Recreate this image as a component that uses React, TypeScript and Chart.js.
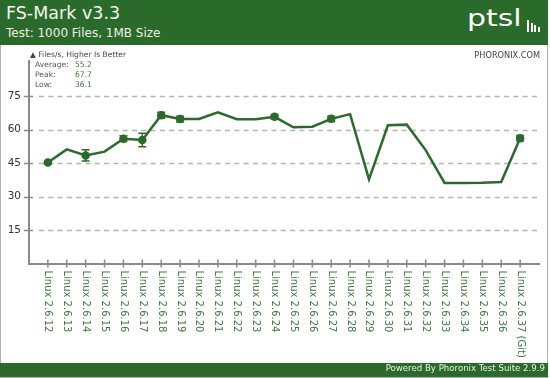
import React, { useEffect, useRef } from "react";
import { Chart, registerables } from "chart.js";

Chart.register(...registerables);

const kernels = [
  "Linux 2.6.12", "Linux 2.6.13", "Linux 2.6.14", "Linux 2.6.15", "Linux 2.6.16",
  "Linux 2.6.17", "Linux 2.6.18", "Linux 2.6.19", "Linux 2.6.20", "Linux 2.6.21",
  "Linux 2.6.22", "Linux 2.6.23", "Linux 2.6.24", "Linux 2.6.25", "Linux 2.6.26",
  "Linux 2.6.27", "Linux 2.6.28", "Linux 2.6.29", "Linux 2.6.30", "Linux 2.6.31",
  "Linux 2.6.32", "Linux 2.6.33", "Linux 2.6.34", "Linux 2.6.35", "Linux 2.6.36",
  "Linux 2.6.37 (Git)",
];
const filesPerSec = [
  45.2, 51.1, 48.4, 50.1, 55.9, 55.3, 66.4, 64.7, 64.7, 67.7,
  64.6, 64.6, 65.7, 61.0, 61.3, 64.8, 66.9, 37.7, 61.9, 62.2,
  50.8, 36.1, 36.1, 36.2, 36.5, 56.1,
];
const stdErr = [
  0.5, 0, 2.5, 0, 1.3, 3.0, 1.3, 1.3, 0, 0,
  0, 0, 1.0, 0, 0, 1.2, 0, 0, 0, 0,
  0, 0, 0, 0, 0, 1.2,
];
const yTicks = [15, 30, 45, 60, 75];
const statLabels = ["Average:", "Peak:", "Low:"];
const statValues = ["55.2", "67.7", "36.1"];

const GREEN = "#2a6a2a";
const LINE = "#2c6a2c";
const FONT = "'DejaVu Sans', 'Noto Sans', sans-serif";

const errorBars = {
  id: "errorBars",
  afterDatasetsDraw(chart: any) {
    const { ctx, scales } = chart;
    const x = scales.x, y = scales.y;
    ctx.save();
    ctx.strokeStyle = LINE;
    ctx.lineWidth = 1.5;
    stdErr.forEach((e, i) => {
      if (!e) return;
      const px = x.getPixelForValue(i);
      const top = y.getPixelForValue(filesPerSec[i] + e);
      const bot = y.getPixelForValue(filesPerSec[i] - e);
      ctx.beginPath();
      ctx.moveTo(px, top); ctx.lineTo(px, bot);
      ctx.moveTo(px - 4, top); ctx.lineTo(px + 4, top);
      ctx.moveTo(px - 4, bot); ctx.lineTo(px + 4, bot);
      ctx.stroke();
    });
    ctx.restore();
  },
};

const dashedGrid = {
  id: "dashedGrid",
  beforeDatasetsDraw(chart: any) {
    const { ctx, chartArea, scales } = chart;
    const y = scales.y;
    ctx.save();
    ctx.strokeStyle = "#b4b4b4";
    ctx.lineWidth = 1.5;
    ctx.setLineDash([5, 4.3]);
    yTicks.forEach((v) => {
      const py = Math.round(y.getPixelForValue(v)) + 0.5;
      ctx.beginPath();
      ctx.moveTo(chartArea.left + 10, py);
      ctx.lineTo(chartArea.right - 2, py);
      ctx.stroke();
    });
    ctx.restore();
  },
};

const axisDeco = {
  id: "axisDeco",
  afterDraw(chart: any) {
    const { ctx, chartArea, scales } = chart;
    const x = scales.x, y = scales.y;
    ctx.save();
    ctx.strokeStyle = "#8a8a8a";
    ctx.lineWidth = 1.5;
    ctx.beginPath();
    yTicks.forEach((v) => {
      const py = Math.round(y.getPixelForValue(v)) + 0.5;
      ctx.moveTo(chartArea.left - 5, py);
      ctx.lineTo(chartArea.left + 4, py);
    });
    kernels.forEach((_, i) => {
      const px = x.getPixelForValue(i);
      ctx.moveTo(px, chartArea.bottom - 4);
      ctx.lineTo(px, chartArea.bottom + 4);
    });
    ctx.stroke();
    ctx.fillStyle = "#3b7a3b";
    ctx.font = "10px " + FONT;
    ctx.textAlign = "left";
    ctx.textBaseline = "middle";
    kernels.forEach((lab, i) => {
      const px = x.getPixelForValue(i);
      ctx.save();
      ctx.translate(px, chartArea.bottom + 7);
      ctx.rotate(Math.PI / 2);
      ctx.fillText(lab, 0, 0);
      ctx.restore();
    });
    ctx.restore();
  },
};

export default function App() {
  const ref = useRef<HTMLCanvasElement>(null);
  useEffect(() => {
    if (!ref.current) return;
    const chart = new Chart(ref.current, {
      type: "line",
      data: {
        datasets: [
          {
            data: filesPerSec.map((v, i) => ({ x: i, y: v })),
            borderColor: LINE,
            backgroundColor: LINE,
            borderWidth: 2.5,
            pointRadius: stdErr.map((e) => (e ? 3 : 0)),
            pointHoverRadius: 0,
            tension: 0,
          },
        ],
      },
      plugins: [dashedGrid, errorBars, axisDeco],
      options: {
        animation: false,
        responsive: false,
        devicePixelRatio: 1,
        layout: { padding: { left: 0, right: 11, top: 61, bottom: 114.5 } },
        plugins: { legend: { display: false }, tooltip: { enabled: false } },
        scales: {
          x: {
            type: "linear",
            min: -1,
            max: 26,
            grid: { display: false, drawTicks: false },
            border: { display: true, color: "#8a8a8a", width: 2 },
            ticks: { display: false },
            afterBuildTicks: (s: any) => {
              s.ticks = kernels.map((_, i) => ({ value: i }));
            },
            afterFit: (s: any) => {
              s.height = 0;
            },
          },
          y: {
            min: 0,
            max: 90.7,
            grid: { display: false, drawTicks: false },
            border: { display: true, color: "#8a8a8a", width: 2 },
            ticks: {
              padding: 8,
              color: "#333333",
              font: { family: FONT, size: 10.5 },
            },
            afterBuildTicks: (s: any) => {
              s.ticks = yTicks.map((v) => ({ value: v }));
            },
            afterFit: (s: any) => {
              s.width = 29;
            },
          },
        },
      } as any,
    });
    return () => chart.destroy();
  }, []);

  const txt = (extra: React.CSSProperties): React.CSSProperties => ({
    position: "absolute",
    fontFamily: FONT,
    lineHeight: 1,
    whiteSpace: "nowrap",
    ...extra,
  });

  return (
    <div style={{ position: "absolute", left: 0, top: 0, width: 550, height: 378, background: "#fff", overflow: "hidden" }}>
      <canvas ref={ref} width={550} height={378} style={{ position: "absolute", left: 0, top: 0 }} />
      <div style={{ position: "absolute", left: 0, top: 0, width: 548, height: 378, border: "1px solid #b0b0b0", boxSizing: "border-box", pointerEvents: "none" }} />
      <div style={{ position: "absolute", left: 0, top: 0, width: 548, height: 45, background: GREEN }} />
      <div style={txt({ left: 6, top: 4.5, fontSize: 17.5, color: "#f6f6ec" })}>FS-Mark v3.3</div>
      <div style={txt({ left: 6, top: 26.5, fontSize: 12, color: "#f0f0e4" })}>Test: 1000 Files, 1MB Size</div>
      <div style={txt({ left: 467, top: 7, fontSize: 23, color: "#ffffff", transform: "scaleX(1.3)", transformOrigin: "left top" })}>ptsl</div>
      <div style={{ position: "absolute", left: 527, top: 20, width: 2, height: 12, background: "#fff" }} />
      <div style={{ position: "absolute", left: 530.5, top: 23, width: 2, height: 9, background: "#fff" }} />
      <div style={{ position: "absolute", left: 534, top: 25, width: 2, height: 7, background: "#fff" }} />
      <div style={{ position: "absolute", left: 537.5, top: 27, width: 2, height: 5, background: "#fff" }} />
      <div style={txt({ left: 30, top: 51.3, fontSize: 7.6, color: "#444" })}>▲ Files/s, Higher Is Better</div>
      <div style={txt({ right: 10, top: 51, fontSize: 8.2, color: "#444" })}>PHORONIX.COM</div>
      {statLabels.map((l, i) => (
        <div key={l} style={txt({ left: 35, top: 61.3 + i * 10, fontSize: 7.6, color: "#555" })}>{l}</div>
      ))}
      {statValues.map((v, i) => (
        <div key={v + i} style={txt({ left: 75, top: 61.3 + i * 10, fontSize: 7.6, color: "#3b7a3b" })}>{v}</div>
      ))}
      <div style={{ position: "absolute", left: 0, top: 363, width: 548, height: 14, background: GREEN }} />
      <div style={txt({ right: 5, top: 364.2, fontSize: 8.6, color: "#eef2e6" })}>Powered By Phoronix Test Suite 2.9.9</div>
    </div>
  );
}
